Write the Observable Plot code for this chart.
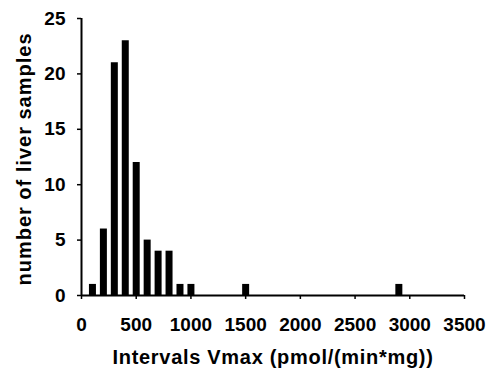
<!DOCTYPE html>
<html>
<head>
<meta charset="utf-8">
<script src="https://cdn.jsdelivr.net/npm/d3@7"></script>
<script src="https://cdn.jsdelivr.net/npm/@observablehq/plot@0.6"></script>
<style>
  html, body { margin: 0; padding: 0; background: #fff; }
</style>
</head>
<body>
<div id="chart"></div>
<script>
// Interval centres of Vmax (pmol/(min*mg)) and number of liver samples
const intervals = [100, 200, 300, 400, 500, 600, 700, 800, 900, 1000, 1500, 2900];
const counts    = [1,   6,   21,  23,  12,  5,   4,   4,   1,   1,    1,    1];
const xTicks = [0, 500, 1000, 1500, 2000, 2500, 3000, 3500];
const yTicks = [0, 5, 10, 15, 20, 25];
const xTitle = "Intervals Vmax (pmol/(min*mg))";
const yTitle = "number of liver samples";

const data = intervals.map((v, i) => ({v, n: counts[i]}));

const chart = Plot.plot({
  width: 487,
  height: 369,
  marginLeft: 81,
  marginRight: 23,
  marginTop: 18,
  marginBottom: 74,
  style: {fontFamily: "'Liberation Sans', Arial, sans-serif", fontSize: "19px", fontWeight: "bold", color: "#000", background: "#fff"},
  x: {domain: [0, 3500]},
  y: {domain: [0, 25]},
  marks: [
    Plot.ruleX(data, {x: "v", y1: 0, y2: "n", stroke: "#000", strokeWidth: 7}),
    Plot.axisX({ticks: xTicks, tickSize: 4, tickPadding: 18, strokeWidth: 1.5, tickFormat: d => String(d), label: null}),
    Plot.axisY({ticks: yTicks, tickSize: 4, tickPadding: 12, strokeWidth: 1.5, label: null}),
    Plot.ruleY([0], {stroke: "#000", strokeWidth: 2}),
    Plot.ruleX([0], {stroke: "#000", strokeWidth: 2}),
    Plot.text([xTitle], {frameAnchor: "bottom", textAnchor: "middle", lineAnchor: "middle", dy: 62, fontSize: 20, fontWeight: "bold", fill: "#000"}),
    Plot.text([yTitle], {frameAnchor: "left", rotate: -90, textAnchor: "middle", lineAnchor: "middle", dx: -57, dy: 2, fontSize: 20, fontWeight: "bold", fill: "#000"})
  ]
});
chart.querySelectorAll("text").forEach(t => {
  if (t.textContent === xTitle) t.style.letterSpacing = "0.7px";
  if (t.textContent === yTitle) t.style.letterSpacing = "1px";
});
document.getElementById("chart").appendChild(chart);
</script>
</body>
</html>
